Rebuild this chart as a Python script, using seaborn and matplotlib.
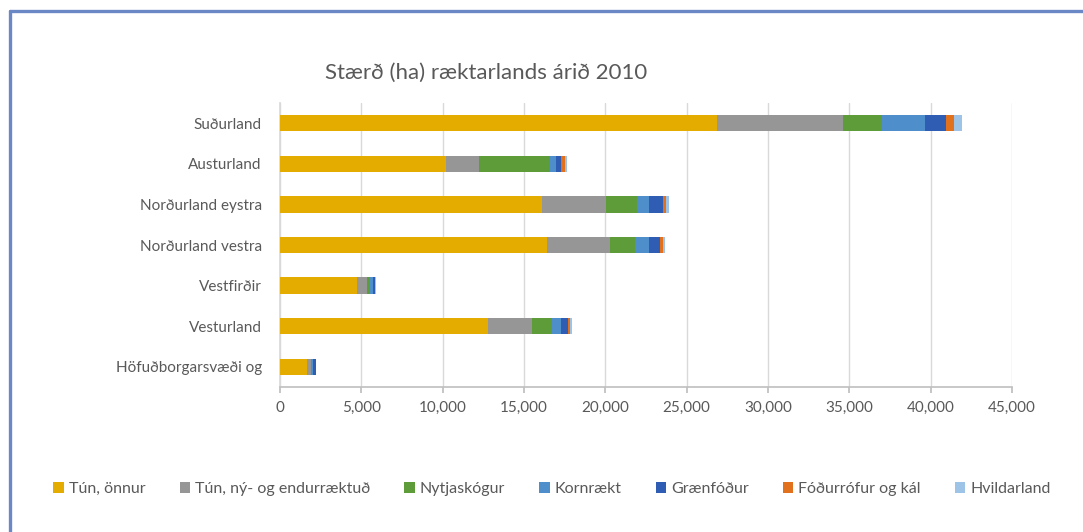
import matplotlib
matplotlib.use("Agg")
import matplotlib.pyplot as plt
import seaborn as sns
import pandas as pd
import numpy as np
from matplotlib.lines import Line2D
from matplotlib.patches import Patch

regions = ["Suðurland", "Austurland", "Norðurland eystra", "Norðurland vestra",
           "Vestfirðir", "Vesturland", "Höfuðborgarsvæði og"]
series_names = ["Tún, önnur", "Tún, ný- og endurræktuð", "Nytjaskógur", "Kornrækt",
                "Grænfóður", "Fóðurrófur og kál", "Hvildarland"]
tun_onnur = [26850, 10225, 16115, 16440, 4745, 12800, 1640]
tun_ny = [7750, 2005, 3925, 3850, 615, 2700, 245]
nytjaskogur = [2410, 4375, 1880, 1550, 165, 1230, 20]
kornraekt = [2620, 365, 780, 860, 170, 570, 150]
graenfodur = [1330, 330, 815, 650, 160, 410, 130]
fodurrofur = [450, 205, 205, 210, 15, 100, 10]
hvildarland = [510, 125, 165, 80, 15, 120, 15]
series_values = [tun_onnur, tun_ny, nytjaskogur, kornraekt, graenfodur, fodurrofur, hvildarland]
colors = ["#E5AC00", "#969696", "#5E9C3A", "#4E8FCB", "#2F5DB4", "#E2711D", "#9DC3E6"]
xticks = list(range(0, 45001, 5000))

sns.set_theme(style="white")
plt.rcParams["font.family"] = ["Lato", "DejaVu Sans"]

fig = plt.figure(figsize=(10.83, 5.32), dpi=100)
ax = fig.add_axes([280/1083, 1-387/532, (1012-280)/1083, (387-103)/532])

cum = np.cumsum(np.array(series_values, dtype=float), axis=0)
for i in range(len(series_names) - 1, -1, -1):
    df = pd.DataFrame({"region": regions, "value": cum[i]})
    sns.barplot(data=df, x="value", y="region", orient="h", color=colors[i],
                width=0.4, ax=ax, saturation=1, linewidth=0, zorder=3)

ax.set_xlim(0, 45000)
ax.set_xticks(xticks)
ax.set_xticklabels([f"{v:,}" for v in xticks])
ax.set_xlabel("")
ax.set_ylabel("")
ax.grid(axis="x", color="#D9D9D9", linewidth=1, zorder=0)
ax.grid(axis="y", visible=False)
for s in ["top", "right"]:
    ax.spines[s].set_visible(False)
ax.spines["left"].set_color("#D9D9D9")
ax.spines["bottom"].set_color("#BFBFBF")
ax.spines["bottom"].set_linewidth(1.2)
ax.tick_params(axis="x", colors="#595959", labelsize=11, length=4, direction="out",
               bottom=True, color="#BFBFBF", pad=6)
ax.tick_params(axis="y", colors="#595959", labelsize=11, length=0, pad=13)

fig.text(486/1083, 1-73/532, "Stærð (ha) ræktarlands árið 2010", ha="center", va="center",
         fontsize=16, color="#595959")

handles = [Patch(facecolor=c, edgecolor="none") for c in colors]
leg = fig.legend(handles, series_names, loc="center", bbox_to_anchor=(552/1083, 1-489/532),
                 ncol=7, frameon=False, fontsize=11.5, handlelength=0.65, handleheight=0.65,
                 handletextpad=0.3, columnspacing=2.15)
for t in leg.get_texts():
    t.set_color("#595959")

frame_color = "#6A88C6"
fig.add_artist(Line2D([10/1083, 1.0], [1-11/532, 1-11/532], color=frame_color, linewidth=2.4,
                      transform=fig.transFigure))
fig.add_artist(Line2D([10/1083, 10/1083], [0, 1-11/532], color=frame_color, linewidth=2.4,
                      transform=fig.transFigure))

fig.savefig("out.png", dpi=100)
